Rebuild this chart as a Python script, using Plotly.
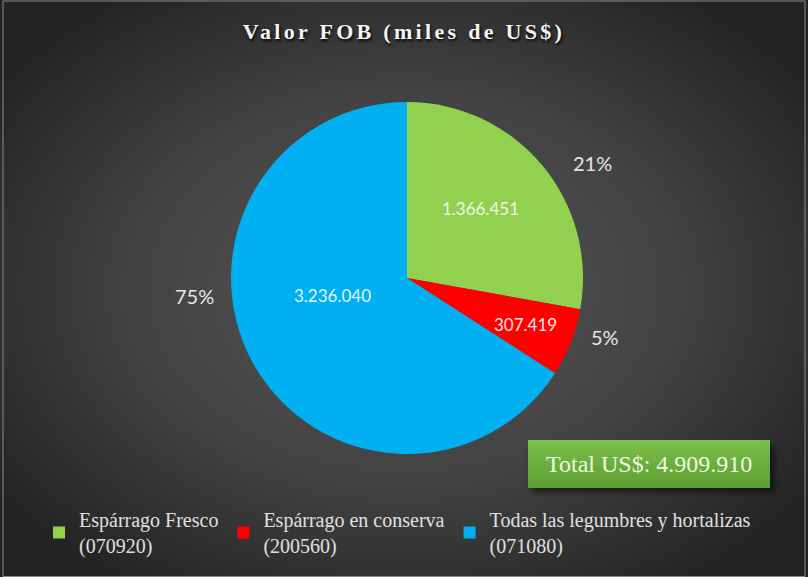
import base64
import plotly.graph_objects as go

# ---- data ----
categories = ["Espárrago Fresco<br>(070920)",
              "Espárrago en conserva<br>(200560)",
              "Todas las legumbres y hortalizas<br>(071080)"]
values = [1366451, 307419, 3236040]
pct_labels = ["21%", "5%", "75%"]
colors = ["#92D050", "#FF0000", "#00B0F0"]
title_text = "Valor FOB (miles de US$)"
total_prefix = "Total US$: "

W, H = 808, 577

def fmt_dots(n):
    return f"{n:,}".replace(",", ".")

# background radial gradient + total box as svg image
svg = (
    f'<svg xmlns="http://www.w3.org/2000/svg" width="{W}" height="{H}" viewBox="0 0 {W} {H}" preserveAspectRatio="none">'
    '<defs><radialGradient id="g" cx="50%" cy="50%" r="62%">'
    '<stop offset="0" stop-color="#575757"/>'
    '<stop offset="0.55" stop-color="#424242"/>'
    '<stop offset="1" stop-color="#232323"/>'
    '</radialGradient>'
    '<linearGradient id="b" x1="0" y1="0" x2="0" y2="1">'
    '<stop offset="0" stop-color="#7cbf4a"/><stop offset="1" stop-color="#5c9e32"/>'
    '</linearGradient>'
    '<filter id="s" x="-10%" y="-10%" width="130%" height="150%"><feGaussianBlur stdDeviation="3"/></filter>'
    '</defs>'
    f'<rect width="{W}" height="{H}" fill="url(#g)"/>'
    '<rect x="532" y="446" width="242" height="46" fill="#000" opacity="0.55" filter="url(#s)"/>'
    '<rect x="528" y="440" width="242" height="48" fill="url(#b)"/>'
    '</svg>'
)
src = "data:image/svg+xml;base64," + base64.b64encode(svg.encode("utf-8")).decode()

cx, cy, r = 407, 278, 176

fig = go.Figure()
fig.add_trace(go.Pie(
    labels=categories,
    values=values,
    marker=dict(colors=colors, line=dict(width=0)),
    sort=False,
    direction="clockwise",
    rotation=0,
    textinfo="none",
    hoverinfo="label+value+percent",
    domain=dict(x=[(cx - r) / W, (cx + r) / W], y=[(H - (cy + r)) / H, (H - (cy - r)) / H]),
    showlegend=True,
))

sans = "Lato, 'Noto Sans', sans-serif"
annotations = [
    dict(text=total_prefix + fmt_dots(sum(values)), x=649 / W, y=1 - 464 / H, xref="paper", yref="paper",
         showarrow=False, xanchor="center", yanchor="middle",
         font=dict(family="'Liberation Serif', serif", size=24, color="#eef8e0")),
]
# outside percentage labels
pct_pos = [(592, 163), (605, 337), (194, 296)]
for lab, (px, py) in zip(pct_labels, pct_pos):
    annotations.append(dict(text=lab, x=px / W, y=1 - py / H, xref="paper", yref="paper",
                            showarrow=False, xanchor="center", yanchor="middle",
                            font=dict(family=sans, size=20, color="#e6e6e6")))
# inside value labels
val_pos = [(480, 208), (525, 324), (332, 295)]
val_colors = ["#eef7e6", "#fde6e6", "#e2f4fc"]
for v, (px, py), c in zip(values, val_pos, val_colors):
    annotations.append(dict(text=fmt_dots(v), x=px / W, y=1 - py / H, xref="paper", yref="paper",
                            showarrow=False, xanchor="center", yanchor="middle",
                            font=dict(family=sans, size=17, color=c)))

fig.update_layout(
    width=W, height=H,
    margin=dict(l=0, r=0, t=0, b=0),
    paper_bgcolor="#333333",
    plot_bgcolor="rgba(0,0,0,0)",
    separators=",.",
    title=dict(text="<b>" + title_text + "</b>", x=0.5, xanchor="center", y=1 - 31 / H, yanchor="middle",
               xref="paper", yref="paper",
               font=dict(family="'Liberation Serif', 'DejaVu Serif', serif", size=22, color="#f4f4f4",
                         shadow="1px 2px 3px #000000")),
    images=[dict(source=src, xref="paper", yref="paper", x=0, y=1, sizex=1, sizey=1,
                 xanchor="left", yanchor="top", sizing="stretch", layer="below")],
    annotations=annotations,
    shapes=[dict(type="rect", xref="paper", yref="paper", x0=3 / W, x1=805 / W, y0=0.5 / H, y1=1 - 1 / H,
                 line=dict(color="#8a8a8a", width=1), fillcolor="rgba(0,0,0,0)")],
    legend=dict(orientation="h", x=39 / W, xanchor="left", y=1 - 500 / H, yanchor="top",
                font=dict(family="'Liberation Serif', serif", size=20, color="#e0e0e0"),
                bgcolor="rgba(0,0,0,0)", itemwidth=30, tracegroupgap=0),
)

post = ("document.body.style.margin='0';document.body.style.overflow='hidden';"
        "var st=document.createElement('style');st.textContent='.gtitle{letter-spacing:3.3px}';"
        "document.head.appendChild(st);")
fig.write_html("out.html", post_script=post, config={"displayModeBar": False})
